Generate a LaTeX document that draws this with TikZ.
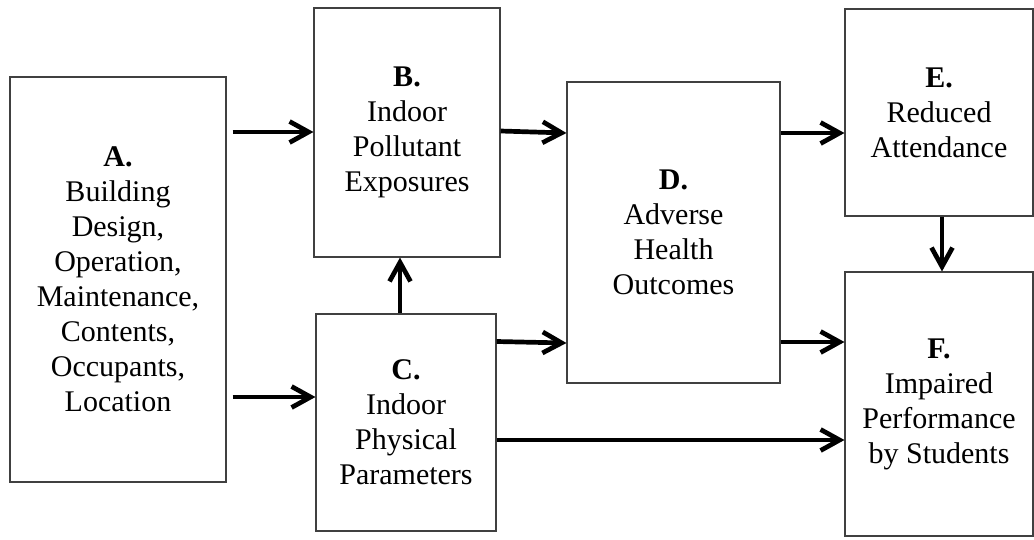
\documentclass[tikz,border=0pt]{standalone}
\usepackage{fontspec}
\setmainfont{Liberation Serif}
\usetikzlibrary{arrows.meta}
\begin{document}
\begin{tikzpicture}[x=1pt,y=-1pt,
  box/.style={draw=black!75,line width=1.1pt,inner sep=0pt,align=center,
    font=\fontsize{30}{35}\selectfont},
  arr/.style={line width=4.7pt,-{Straight Barb[length=19pt,width=21pt]}}]
\useasboundingbox (0,0) rectangle (1034,539);
\node[box,minimum width=216pt,minimum height=405pt] (A) at (118,279.5)
  {\textbf{A.}\\Building\\Design,\\Operation,\\Maintenance,\\Contents,\\Occupants,\\Location};
\node[box,minimum width=186pt,minimum height=249pt] (B) at (407,132.5)
  {\textbf{B.}\\Indoor\\Pollutant\\Exposures};
\node[box,minimum width=180pt,minimum height=217pt] (C) at (406,422.5)
  {\textbf{C.}\\Indoor\\Physical\\Parameters};
\node[box,minimum width=213pt,minimum height=301pt] (D) at (673.5,232.5)
  {\textbf{D.}\\Adverse\\Health\\Outcomes};
\node[box,minimum width=188pt,minimum height=207pt] (E) at (939,112.5)
  {\textbf{E.}\\Reduced\\Attendance};
\node[box,minimum width=188pt,minimum height=264pt] (F) at (939,404)
  {\textbf{F.}\\Impaired\\Performance\\by Students};
\draw[arr] ([xshift=6pt]A.east |- 0,132) -- (B.west |- 0,132);
\draw[arr] ([xshift=6pt]A.east |- 0,397) -- (C.west |- 0,397);
\draw[arr] (B.east |- 0,131) -- (D.west |- 0,133);
\draw[arr] (C.east |- 0,341.5) -- (D.west |- 0,343);
\draw[arr] (C.east |- 0,440) -- (F.west |- 0,440);
\draw[arr] (D.east |- 0,133) -- (E.west |- 0,133);
\draw[arr] (D.east |- 0,342) -- (F.west |- 0,342);
\draw[arr] (C.north -| 400,0) -- (B.south -| 400,0);
\draw[arr] (E.south -| 942,0) -- (F.north -| 942,0);
\end{tikzpicture}
\end{document}
